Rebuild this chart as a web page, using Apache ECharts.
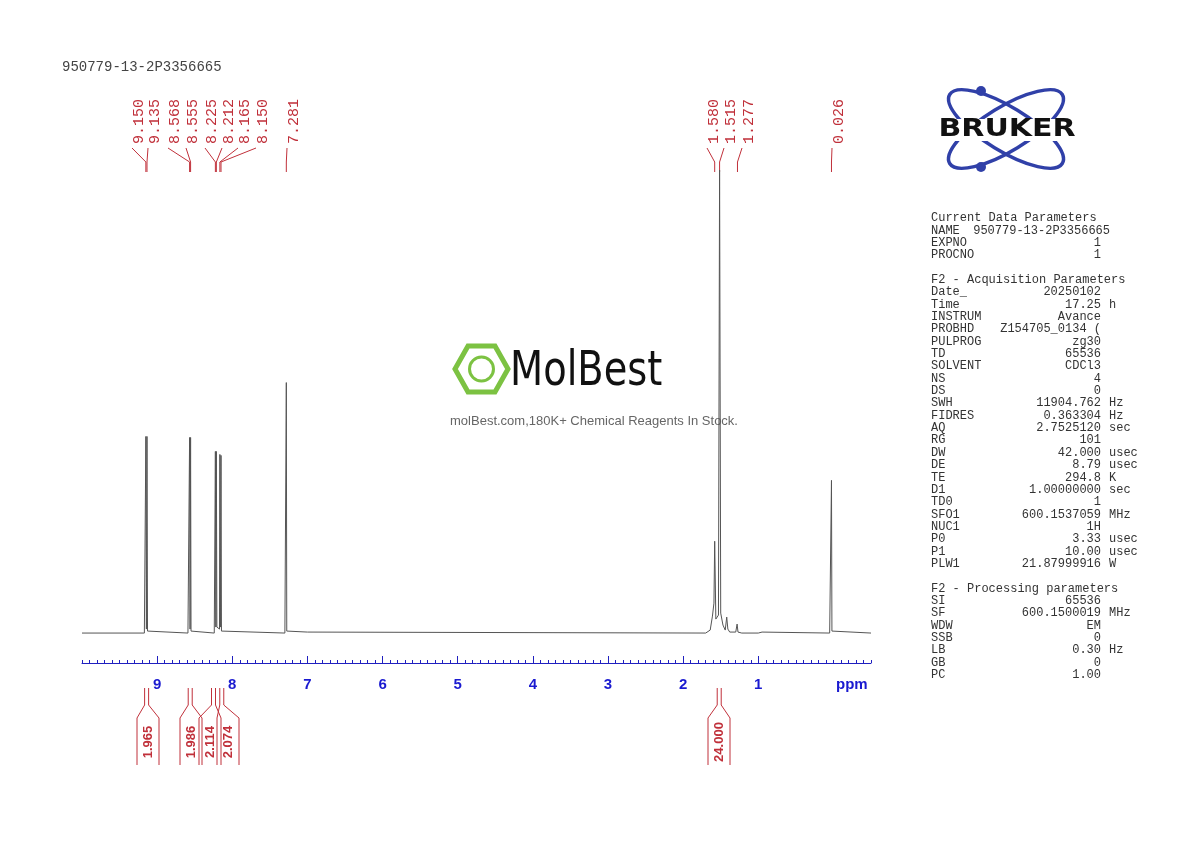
<!DOCTYPE html>
<html><head><meta charset="utf-8">
<script src="https://cdn.jsdelivr.net/npm/echarts@6/dist/echarts.min.js"></script>
<style>html,body{margin:0;background:#fff}#c{width:1190px;height:842px}</style>
</head><body><div id="c"></div>
<script>
// spectrum sampled points [ppm, intensity] (baseline 0)
var spectrum = [
  [10.0,0],[9.17,0],[9.155,2],[9.150,197],[9.143,4],[9.135,197],[9.128,2],[9.11,0],
  [8.59,0],[8.573,2],[8.568,196],[8.562,4],[8.555,196],[8.549,2],[8.53,0],
  [8.24,0],[8.23,2],[8.225,182],[8.219,6],[8.212,182],[8.205,6],[8.17,4],[8.165,179],[8.158,6],[8.150,178],[8.144,2],[8.12,0],
  [7.30,0],[7.287,2],[7.281,251],[7.275,2],[7.26,0],[7.0,1],[6.99,0],
  [1.70,0],[1.64,3],[1.61,17],[1.59,30],[1.580,92],[1.565,14],[1.53,18],[1.515,464],[1.50,20],[1.47,8],[1.44,3],[1.42,16],[1.405,4],[1.38,1],[1.30,1],[1.282,9],[1.27,1],[1.22,0],
  [1.0,0],[0.95,1],[0.93,0],[0.05,0],[0.032,2],[0.026,153],[0.020,2],[0.0,0],[-0.5,0]
];
var tickLabels = [1,2,3,4,5,6,7,8,9];
var peakTop = ['9.150','9.135','8.568','8.555','8.225','8.212','8.165','8.150','7.281'];
var peakTopLabelX = [132,148,168,186,205,222,238,256,287];
var peakRight = ['1.580','1.515','1.277','0.026'];
var peakRightLabelX = [707,724,742,832];
var integrals = ['1.965','1.986','2.114','2.074','24.000'];
var integralCenter = [9.14,8.56,8.25,8.14,1.52];
var integralBoxX = [148,191,210,228,719];
var paramSections = [
  [['Current Data Parameters','',''],['NAME','950779-13-2P3356665',''],['EXPNO','1',''],['PROCNO','1','']],
  [['F2 - Acquisition Parameters','',''],['Date_','20250102',''],['Time','17.25','h'],['INSTRUM','Avance',''],['PROBHD','Z154705_0134 (',''],['PULPROG','zg30',''],['TD','65536',''],['SOLVENT','CDCl3',''],['NS','4',''],['DS','0',''],['SWH','11904.762','Hz'],['FIDRES','0.363304','Hz'],['AQ','2.7525120','sec'],['RG','101',''],['DW','42.000','usec'],['DE','8.79','usec'],['TE','294.8','K'],['D1','1.00000000','sec'],['TD0','1',''],['SFO1','600.1537059','MHz'],['NUC1','1H',''],['P0','3.33','usec'],['P1','10.00','usec'],['PLW1','21.87999916','W']],
  [['F2 - Processing parameters','',''],['SI','65536',''],['SF','600.1500019','MHz'],['WDW','EM',''],['SSB','0',''],['LB','0.30','Hz'],['GB','0',''],['PC','1.00','']]
];

var blue = '#2020c0';
var chart = echarts.init(document.getElementById('c'));
chart.setOption({
  animation:false,
  grid:{left:82,right:319,top:170,bottom:179},
  xAxis:[
    {type:'value',inverse:true,min:-0.5,max:10.0,interval:0.1,
      axisLine:{onZero:false,lineStyle:{color:blue,width:1}},
      axisTick:{inside:true,length:3,lineStyle:{color:blue}},
      axisLabel:{show:false},splitLine:{show:false}},
    {type:'value',inverse:true,min:-0.5,max:10.0,position:'bottom',
      axisLine:{show:false,onZero:false},
      axisTick:{inside:true,length:7,customValues:tickLabels,lineStyle:{color:blue}},
      axisLabel:{color:'#1a1ad0',fontWeight:'bold',fontSize:15,fontFamily:'Liberation Sans',margin:14,customValues:tickLabels},
      splitLine:{show:false}}
  ],
  yAxis:{type:'value',min:-30,max:464,show:false},
  series:[{type:'line',data:spectrum,symbol:'none',lineStyle:{color:'#555',width:1}}]
});

var g = [];
var red = '#c0303a';
function px(p){return chart.convertToPixel({xAxisIndex:0},p);}
function peakLabels(labels,lx){
  labels.forEach(function(t,i){
    var p = px(parseFloat(t));
    g.push({type:'text',x:lx[i]+7,y:144,rotation:Math.PI/2,style:{text:t,fill:red,font:'15px "Liberation Mono"',align:'left',verticalAlign:'middle'}});
    g.push({type:'polyline',shape:{points:[[lx[i],148],[p,162],[p,172]]},style:{stroke:red,lineWidth:1,fill:null}});
  });
}
peakLabels(peakTop,peakTopLabelX);
peakLabels(peakRight,peakRightLabelX);
integrals.forEach(function(t,i){
  var p = px(integralCenter[i]), b = integralBoxX[i];
  g.push({type:'polyline',shape:{points:[[p-2,688],[p-2,705],[b-11,718],[b-11,765]]},style:{stroke:red,lineWidth:1,fill:null}});
  g.push({type:'polyline',shape:{points:[[p+2,688],[p+2,705],[b+11,718],[b+11,765]]},style:{stroke:red,lineWidth:1,fill:null}});
  g.push({type:'text',x:b,y:742,rotation:Math.PI/2,style:{text:t,fill:red,font:'bold 13px "Liberation Sans"',align:'center',verticalAlign:'middle'}});
});
g.push({type:'text',x:836,y:677,style:{text:'ppm',fill:'#1a1ad0',font:'bold 15px "Liberation Sans"'}});
g.push({type:'text',x:62,y:60,style:{text:'950779-13-2P3356665',fill:'#444',font:'14px "Liberation Mono"'}});
// parameter table
var y = 212;
paramSections.forEach(function(sec){
  sec.forEach(function(r){
    var mono = '12px "Liberation Mono"';
    g.push({type:'text',x:931,y:y,style:{text:r[0],fill:'#333',font:mono}});
    if(r[1]) g.push({type:'text',x:r[0]==='NAME'?1110:1101,y:y,style:{text:r[1],fill:'#333',font:mono,align:'right'}});
    if(r[2]) g.push({type:'text',x:1109,y:y,style:{text:r[2],fill:'#333',font:mono}});
    y += 12.35;
  });
  y += 12.35;
});
// Bruker logo
[0.55,-0.55].forEach(function(r){
  g.push({type:'ellipse',shape:{cx:1006,cy:129,rx:66,ry:22},rotation:r,originX:1006,originY:129,style:{stroke:'#3040a8',lineWidth:3.5,fill:null}});
});
g.push({type:'circle',shape:{cx:981,cy:91,r:5},style:{fill:'#3040a8'}});
g.push({type:'circle',shape:{cx:981,cy:167,r:5},style:{fill:'#3040a8'}});
g.push({type:'rect',shape:{x:925,y:119,width:165,height:22},style:{fill:'#fff'}});
g.push({type:'text',x:1007,y:130,scaleX:1.25,style:{text:'BRUKER',fill:'#111',font:'bold 24px "DejaVu Sans"',align:'center',verticalAlign:'middle'}});
// watermark
g.push({type:'polygon',shape:{points:[[468,346],[495,346],[508,369],[495,392],[468,392],[455,369]]},style:{stroke:'#7cc242',lineWidth:5,fill:null}});
g.push({type:'circle',shape:{cx:481.5,cy:369,r:12},style:{stroke:'#7cc242',lineWidth:3,fill:null}});
g.push({type:'text',x:510,y:373,scaleX:0.8,style:{text:'MolBest',fill:'#111',font:'48px "DejaVu Sans"',verticalAlign:'middle'}});
g.push({type:'text',x:594,y:421,style:{text:'molBest.com,180K+ Chemical Reagents In Stock.',fill:'#666',font:'13px "Liberation Sans"',align:'center',verticalAlign:'middle'}});
chart.setOption({graphic:g});
</script></body></html>
